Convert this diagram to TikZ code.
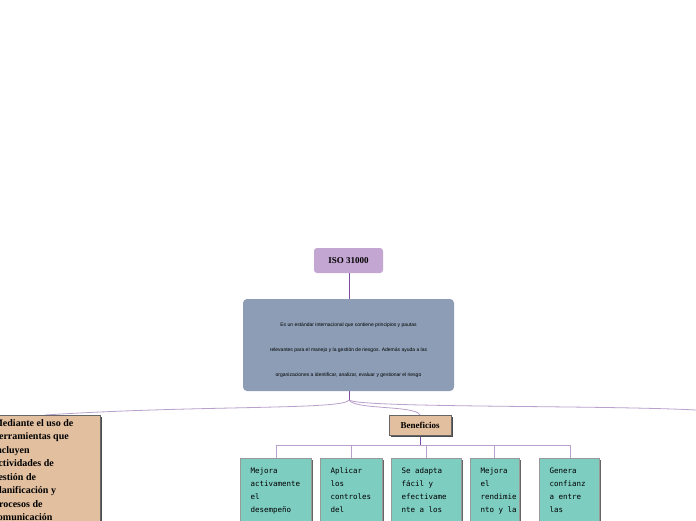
\documentclass[tikz,border=0pt]{standalone}
\usepackage{fontspec}
\setmainfont{Liberation Serif}
\newfontfamily\monof{DejaVu Sans Mono}
\newfontfamily\sansf{Liberation Sans}
\definecolor{lil}{RGB}{195,166,210}
\definecolor{slate}{RGB}{140,157,181}
\definecolor{tanc}{RGB}{226,191,159}
\definecolor{tealc}{RGB}{126,205,193}
\definecolor{purp}{RGB}{125,75,165}
\definecolor{lpurp}{RGB}{185,160,205}
\begin{document}
\begin{tikzpicture}[x=1pt,y=1pt,
  conn/.style={draw=purp,line width=0.9pt},
  thin/.style={draw=lpurp,line width=0.8pt},
  ttext/.style={font=\monof\fontsize{7.5}{13}\selectfont,align=left,anchor=north west}]
\useasboundingbox (0,0) rectangle (696,-520);
\clip (0,0) rectangle (696,-520);
\fill[white] (0,0) rectangle (696,-520);
% connectors
\draw[conn] (349,-273) -- (349,-299);
\draw[conn] (349,-391) -- (349,-400);
\draw[thin] (349,-400) .. controls (345,-410) and (200,-405) .. (45,-415);
\draw[thin] (349,-400) .. controls (355,-410) and (415,-405) .. (420,-415);
\draw[thin] (349,-400) .. controls (360,-408) and (600,-405) .. (696,-410);
\draw[conn] (420,-435) -- (420,-445);
\draw[thin] (276,-458) -- (276,-445) -- (570,-445) -- (570,-458);
\foreach \x in {351,426,494} \draw[thin] (\x,-445) -- (\x,-458);
% ISO
\node[fill=lil,rounded corners=3pt,minimum width=69pt,minimum height=25pt,font=\bfseries\fontsize{9}{10}\selectfont] (iso) at (348.5,-260.5) {ISO 31000};
% description
\fill[slate,rounded corners=4pt] (243,-299) rectangle (454,-391);
\node[font=\sansf\fontsize{5}{6}\selectfont] (d1) at (348.5,-325) {Es un estándar internacional que contiene principios y pautas};
\node[font=\sansf\fontsize{5}{6}\selectfont] (d2) at (348.5,-350) {relevantes para el manejo y la gestión de riesgos. Además ayuda a las};
\node[font=\sansf\fontsize{5}{6}\selectfont] (d3) at (348.5,-375) {organizaciones a identificar, analizar, evaluar y gestionar el riesgo};
% left box
\fill[black!70] (-8,-417) rectangle (102,-530);
\fill[tanc] (-10,-415) rectangle (100,-530);
\draw[black!60] (100,-530) -- (100,-415) -- (-10,-415);
\node[anchor=north west,align=left,font=\bfseries\fontsize{10}{13.5}\selectfont] (left) at (-10,-416) {Mediante el uso de\\herramientas que\\incluyen\\actividades de\\gestión de\\planificación y\\procesos de\\comunicación};
% Beneficios
\fill[black!70] (391,-417) rectangle (453,-437);
\node[fill=tanc,draw=black!60,minimum width=62pt,minimum height=20pt,inner sep=0pt,font=\bfseries\fontsize{9}{10}\selectfont] (ben) at (420,-425) {Beneficios};
% teal boxes
\foreach \a/\b in {240/311,320/382,391/461,470/519,539/599}{
  \fill[black!60] (\a+2,-460) rectangle (\b+2,-530);
  \fill[tealc] (\a,-458) rectangle (\b,-530);
  \draw[black!40] (\a,-530) -- (\a,-458) -- (\b,-458) -- (\b,-530);
}
\node[ttext] (t1) at (247,-464) {Mejora\\activamente\\el\\desempeño};
\node[ttext] (t2) at (327,-464) {Aplicar\\los\\controles\\del};
\node[ttext] (t3) at (398,-464) {Se adapta\\fácil y\\efectivame\\nte a los};
\node[ttext] (t4) at (477,-464) {Mejora\\el\\rendimie\\nto y la};
\node[ttext] (t5) at (546,-464) {Genera\\confianz\\a entre\\las};
\end{tikzpicture}
\end{document}
